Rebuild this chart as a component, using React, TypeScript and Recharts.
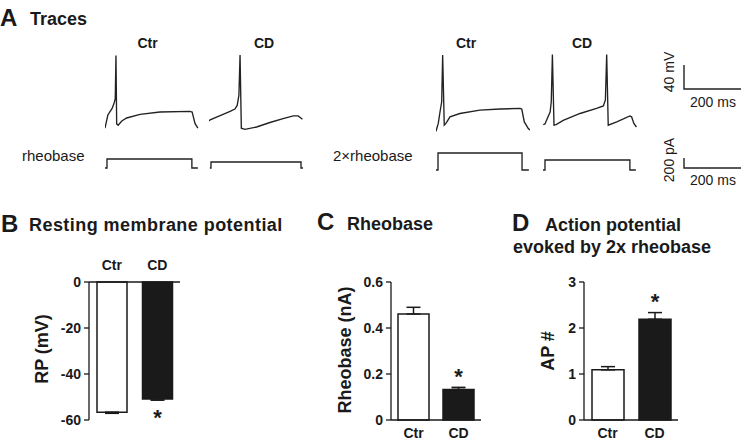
import { LineChart, Line, XAxis, YAxis, BarChart, Bar, ErrorBar, LabelList, Cell } from "recharts";

const FONT = '"Liberation Sans", Arial, Helvetica, sans-serif';
const INK = "#1a1a1a";

// ---- Panel A traces: [time (ms), value] ----
// membrane potential (mV)
const ctrRheoV = [[0, -57], [10, -35], [25, -24], [32, -15], [36, -8], [38.5, 64], [41, -50], [46, -52], [59, -45], [76, -40], [123, -34], [193, -30], [298, -29], [306, -30], [316, -49], [326, -57]];
const cdRheoV = [[0, -45], [4, -43], [39, -36], [74, -29], [91, -25], [99, -19], [105, -2], [109, 65], [113.5, -57], [126, -59], [167, -55], [214, -47.5], [260, -41], [296, -36.5], [313, -36.5], [328, -42]];
const ctr2xV = [[0, -62], [8, -49], [14, -30], [20, -13], [23.4, 65], [29, -52], [35, -49], [49, -38], [84, -32.5], [154, -27], [225, -25], [295, -24], [301, -25], [310, -46.5], [324, -57.5], [330, -60]];
const cd2xV = [[1, -51], [7, -50], [15, -41], [25, -30], [29, -13], [33, 66], [38.6, -52], [46, -51], [71, -44], [130, -32.5], [188, -24], [212, -20], [219, -10], [223.6, 66], [229, -52], [259, -46.5], [305, -36.5], [311, -38], [319, -49], [328, -55]];
// injected current (pA)
const ctrRheoI = [[0, 0], [7, 0], [7, 180], [305, 180], [305, 0], [326, 0]];
const cdRheoI = [[3, 0], [7, 0], [7, 120], [323, 120], [323, 0], [330, 0]];
const ctr2xI = [[0, 0], [7, 0], [7, 340], [302, 340], [302, 0], [326, 0]];
const cd2xI = [[0, 0], [7, 0], [7, 200], [305, 200], [305, 0], [326, 0]];
// scale bars
const vScaleBar = [[0, 40], [0, 0], [200, 0]];
const iScaleBar = [[0, 200], [0, 0], [200, 0]];

// ---- Panels B-D ----
const groups = ["Ctr", "CD"];
const sig = ["", "*"];
const rpMean = [-56.6, -50.9];
const rpErr = [0.5, 0.5];
const rheoMean = [0.461, 0.133];
const rheoErr = [0.029, 0.009];
const apMean = [1.09, 2.19];
const apErr = [0.07, 0.145];

const fills = ["#ffffff", INK];

const toRows = (pts: number[][]) => pts.map(([t, v]) => ({ t, v }));

function Trace({ pts, left, top, height, domain }: { pts: number[][]; left: number; top: number; height: number; domain: [number, number] }) {
  return (
    <div style={{ position: "absolute", left, top }}>
      <LineChart width={94} height={height} data={toRows(pts)} margin={{ top: 0, right: 0, bottom: 0, left: 0 }}>
        <XAxis type="number" dataKey="t" domain={[0, 330]} hide />
        <YAxis type="number" domain={domain} hide />
        <Line dataKey="v" type="linear" stroke="#222" strokeWidth={1.35} dot={false} isAnimationActive={false} />
      </LineChart>
    </div>
  );
}

function ScaleBar({ pts, left, top, plotH, yMax }: { pts: number[][]; left: number; top: number; plotH: number; yMax: number }) {
  return (
    <div style={{ position: "absolute", left, top }}>
      <LineChart width={62} height={plotH + 4} data={toRows(pts)} margin={{ top: 2, right: 2, bottom: 2, left: 2 }}>
        <XAxis type="number" dataKey="t" domain={[0, 203.6]} hide />
        <YAxis type="number" domain={[0, yMax]} hide />
        <Line dataKey="v" type="linear" stroke="#222" strokeWidth={1.4} dot={false} isAnimationActive={false} />
      </LineChart>
    </div>
  );
}

const starLabel = (gap: number, below: boolean) => (p: any) => {
  if (!p.value) return null;
  const x = Number(p.x), y = Number(p.y), w = Number(p.width), h = Number(p.height);
  const cx = x + w / 2;
  const cy = below ? Math.max(y, y + h) + gap : Math.min(y, y + h) - gap;
  return (
    <text x={cx} y={cy + 12} textAnchor="middle" fontSize={22} fontWeight="bold" fontFamily={FONT} fill={INK}>
      {p.value}
    </text>
  );
};

const tickStyle = { fontSize: 14, fontWeight: "bold", fill: INK, fontFamily: FONT };
const axisLine = { stroke: INK, strokeWidth: 1.3 };

function BarPanel({
  rows, left, top, yWidth, plotW, domain, ticks, barSize, top0, starGap, starBelow,
}: any) {
  const mt = top0 ? 0 : 10;
  const xh = top0 ? 32 : 30;
  return (
    <div style={{ position: "absolute", left, top }}>
      <BarChart
        width={yWidth + plotW + 10}
        height={mt + 138 + (top0 ? 10 : xh) + (top0 ? xh : 0)}
        data={rows}
        margin={{ top: mt, right: 10, bottom: top0 ? 10 : 0, left: 0 }}
        barSize={barSize}
      >
        <XAxis
          dataKey="name"
          orientation={top0 ? "top" : "bottom"}
          height={xh}
          tickLine={false}
          axisLine={axisLine}
          tick={tickStyle}
          tickMargin={top0 ? 6 : 2}
          interval={0}
        />
        <YAxis
          width={yWidth}
          domain={domain}
          ticks={ticks}
          interval={0}
          axisLine={axisLine}
          tickLine={{ stroke: INK, strokeWidth: 1.3 }}
          tickSize={5}
          tickMargin={3}
          tick={tickStyle}
        />
        <Bar dataKey="mean" isAnimationActive={false} stroke={INK} strokeWidth={1.5}>
          {rows.map((r: any, i: number) => (
            <Cell key={r.name} fill={fills[i]} />
          ))}
          <ErrorBar dataKey="err" direction="y" width={7} stroke={INK} strokeWidth={1.5} />
          <LabelList dataKey="sig" content={starLabel(starGap, starBelow)} />
        </Bar>
      </BarChart>
    </div>
  );
}

const rpRows = groups.map((g, i) => ({ name: g, mean: rpMean[i], err: [rpErr[i], 0], sig: sig[i] }));
const rheoRows = groups.map((g, i) => ({ name: g, mean: rheoMean[i], err: [0, rheoErr[i]], sig: sig[i] }));
const apRows = groups.map((g, i) => ({ name: g, mean: apMean[i], err: [0, apErr[i]], sig: sig[i] }));

function T({ x, y, size = 18, bold = true, anchor = "start", rot, spacing, children }: any) {
  return (
    <text
      x={x}
      y={y}
      fontSize={size}
      fontWeight={bold ? "bold" : "normal"}
      fontFamily={FONT}
      fill={INK}
      letterSpacing={spacing}
      textAnchor={anchor}
      dominantBaseline={rot ? "central" : undefined}
      transform={rot ? `rotate(-90 ${x} ${y})` : undefined}
    >
      {children}
    </text>
  );
}

export default function App() {
  return (
    <div style={{ position: "absolute", left: 0, top: 0, width: 741, height: 443, background: "#fff", overflow: "hidden" }}>
      <svg width={741} height={443} style={{ position: "absolute", left: 0, top: 0 }}>
        <T x={0} y={26} size={24}>A</T>
        <T x={30} y={25}>Traces</T>
        <T x={147.5} y={48} size={14} anchor="middle">Ctr</T>
        <T x={264} y={48} size={14} anchor="middle">CD</T>
        <T x={466} y={48} size={14} anchor="middle">Ctr</T>
        <T x={582} y={48} size={14} anchor="middle">CD</T>
        <T x={22} y={161} size={15} bold={false}>rheobase</T>
        <T x={333} y={161} size={15} bold={false}>2×rheobase</T>
        <T x={669} y={72} size={14} bold={false} anchor="middle" rot>40 mV</T>
        <T x={713} y={107} size={14} bold={false} anchor="middle">200 ms</T>
        <T x={669} y={160} size={14} bold={false} anchor="middle" rot>200 pA</T>
        <T x={713} y={185} size={14} bold={false} anchor="middle">200 ms</T>

        <T x={1} y={232} size={24}>B</T>
        <T x={29} y={231} spacing={0.45}>Resting membrane potential</T>
        <T x={317} y={230} size={24}>C</T>
        <T x={347} y={230}>Rheobase</T>
        <T x={512} y={231} size={24}>D</T>
        <T x={545} y={231}>Action potential</T>
        <T x={513} y={253}>evoked by 2x rheobase</T>

        <T x={42} y={349} anchor="middle" rot>RP (mV)</T>
        <T x={345} y={350} anchor="middle" rot>Rheobase (nA)</T>
        <T x={548} y={351} anchor="middle" rot>AP #</T>
      </svg>

      <Trace pts={ctrRheoV} left={105} top={49} height={87} domain={[-70, 75]} />
      <Trace pts={cdRheoV} left={209} top={49} height={87} domain={[-70, 75]} />
      <Trace pts={ctr2xV} left={436} top={49} height={87} domain={[-70, 75]} />
      <Trace pts={cd2xV} left={543} top={49} height={87} domain={[-70, 75]} />
      <Trace pts={ctrRheoI} left={105} top={146} height={24} domain={[-40, 440]} />
      <Trace pts={cdRheoI} left={209} top={146} height={24} domain={[-40, 440]} />
      <Trace pts={ctr2xI} left={436} top={148} height={24} domain={[-40, 440]} />
      <Trace pts={cd2xI} left={543} top={148} height={24} domain={[-40, 440]} />
      <ScaleBar pts={vScaleBar} left={682} top={61} plotH={26} yMax={43.3} />
      <ScaleBar pts={iScaleBar} left={682} top={156} plotH={10} yMax={200} />

      <BarPanel rows={rpRows} left={0} top={250} yWidth={89} plotW={91} domain={[-60, 0]} ticks={[-60, -40, -20, 0]} barSize={30} top0 starGap={14} starBelow />
      <BarPanel rows={rheoRows} left={331} top={272} yWidth={60} plotW={90} domain={[0, 0.6]} ticks={[0, 0.2, 0.4, 0.6]} barSize={31} starGap={17} starBelow={false} />
      <BarPanel rows={apRows} left={524} top={272} yWidth={60} plotW={94} domain={[0, 3]} ticks={[0, 1, 2, 3]} barSize={32} starGap={22.5} starBelow={false} />
    </div>
  );
}
